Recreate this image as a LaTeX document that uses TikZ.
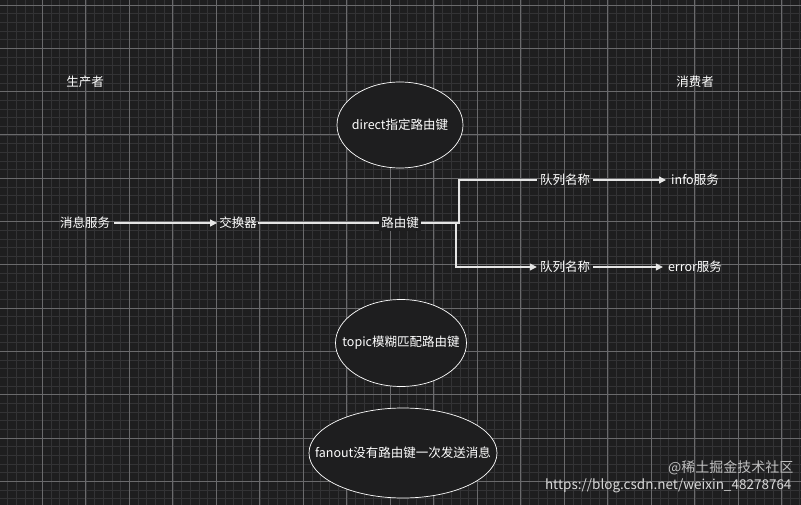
\documentclass[tikz,border=0pt]{standalone}
\usepackage{fontspec}
\setmainfont{Noto Sans CJK SC}
\usetikzlibrary{arrows.meta,shapes.geometric}
\definecolor{bg}{HTML}{1E1E1F}
\definecolor{minorc}{HTML}{333335}
\definecolor{majorc}{HTML}{6A6A6C}
\tikzset{
  lbl/.style={text=white,font=\fontsize{12.5pt}{14pt}\selectfont,inner sep=1pt},
  ell/.style={ellipse,draw=white,fill=bg,line width=0.7pt,inner sep=0pt},
  conn/.style={draw=white!90!black,line width=1.2pt},
  arr/.style={conn,-{Triangle[length=7pt,width=7pt]}},
}
\begin{document}
\begin{tikzpicture}[x=1pt,y=-1pt]
\fill[bg] (0,0) rectangle (801,505);
\useasboundingbox (0,0) rectangle (801,505);
\foreach \i in {0,...,93}{\draw[minorc,line width=0.6pt] ({-1.2+8.7*\i},0) -- ({-1.2+8.7*\i},505);}
\foreach \i in {0,...,58}{\draw[minorc,line width=0.6pt] (0,{5+8.66*\i}) -- (801,{5+8.66*\i});}
\foreach \i in {0,...,18}{\draw[majorc,line width=0.8pt] ({-1.2+43.5*\i},0) -- ({-1.2+43.5*\i},505);}
\foreach \i in {0,...,11}{\draw[majorc,line width=0.8pt] (0,{5+43.3*\i}) -- (801,{5+43.3*\i});}

\node[lbl] (prod) at (85,82) {生产者};
\node[lbl] (cons) at (695,82) {消费者};
\node[ell,minimum width=126pt,minimum height=86pt] (direct) at (400,125) {};
\node[lbl] (directt) at (direct.center) {direct指定路由键};
\node[ell,minimum width=131pt,minimum height=87pt] (topic) at (401,343) {};
\node[lbl] (topict) at (topic.center) {topic模糊匹配路由键};
\node[ell,minimum width=188pt,minimum height=90pt] (fanout) at (403,453) {};
\node[lbl] (fanoutt) at (fanout.center) {fanout没有路由键一次发送消息};

\node[lbl] (msg) at (85,223) {消息服务};
\node[lbl] (ex) at (238,223) {交换器};
\node[lbl,fill=bg,inner sep=2pt] (rk) at (400,223) {路由键};
\node[lbl,inner sep=3pt] (q1) at (565,180) {队列名称};
\node[lbl] (info) at (695,180) {info服务};
\node[lbl,inner sep=3pt] (q2) at (565,267) {队列名称};
\node[lbl] (err) at (695,267) {error服务};

\coordinate (j1) at (459,223);
\coordinate (j2) at (456,223);
\draw[arr] (msg.east) ++(3,0) -- ([xshift=-1pt]ex.west);
\draw[conn] (ex.east) -- (rk.west);
\draw[conn] (rk.east) -- (j1) |- (q1.west);
\draw[conn] (j2) |- ([xshift=-3pt]q2.west) ;
\draw[arr] ([xshift=-12pt]q2.west |- 0,267) -- (q2.west);
\draw[arr] (q1.east) -- ([xshift=-4pt]info.west);
\draw[arr] (q2.east) -- ([xshift=-4pt]err.west);

\node[text=white!75!black,font=\fontsize{14pt}{16pt}\selectfont,anchor=east] (wm1) at (797,468) {@稀土掘金技术社区};
\node[text=white!85!black,font=\fontsize{13.5pt}{16pt}\selectfont,anchor=east] (wm2) at (795,486) {https://blog.csdn.net/weixin\_48278764};
\end{tikzpicture}
\end{document}
